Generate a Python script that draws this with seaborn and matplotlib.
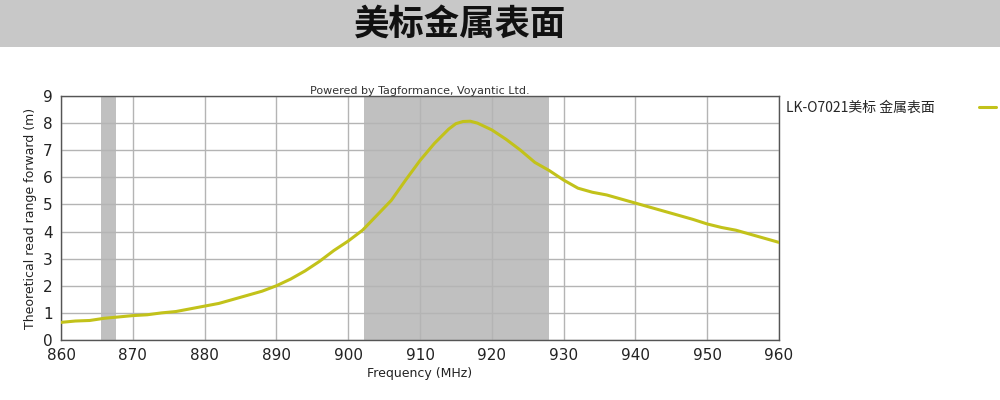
import matplotlib
matplotlib.use("Agg")
import matplotlib.pyplot as plt
import seaborn as sns
import pandas as pd
from matplotlib.patches import Rectangle

title = "美标金属表面"
series_name = "LK-O7021美标 金属表面"
x_label = "Frequency (MHz)"
y_label = "Theoretical read range forward (m)"
credit = "Powered by Tagformance, Voyantic Ltd."

freq = [860, 862, 864, 866, 868, 870, 872, 874, 876, 878, 880, 882, 884, 886, 888,
        890, 892, 894, 896, 898, 900, 902, 904, 906, 908, 910, 912, 914, 915, 916, 917,
        918, 920, 922, 924, 926, 928, 930, 932, 934, 936, 938, 940, 942, 944, 946,
        948, 950, 952, 954, 956, 958, 960]
read_range = [0.65, 0.70, 0.72, 0.80, 0.85, 0.90, 0.93, 1.00, 1.05, 1.15, 1.25, 1.35, 1.50, 1.65, 1.80,
              2.00, 2.25, 2.55, 2.90, 3.30, 3.65, 4.05, 4.60, 5.15, 5.90, 6.62, 7.25, 7.78, 7.98, 8.06, 8.07,
              8.00, 7.75, 7.40, 7.00, 6.55, 6.25, 5.90, 5.60, 5.45, 5.35, 5.20, 5.05, 4.90, 4.75, 4.60,
              4.45, 4.28, 4.15, 4.05, 3.90, 3.75, 3.60]
bands = [(865.6, 867.6), (902.2, 928.0)]
x_ticks = list(range(860, 961, 10))
y_ticks = list(range(0, 10))

sns.set_style("white")
plt.rcParams['font.family'] = ['DejaVu Sans', 'Noto Sans CJK SC']

df = pd.DataFrame({"freq": freq, "range": read_range, "series": series_name})

fig = plt.figure(figsize=(10, 4), dpi=100)
fig.patches.append(Rectangle((0, 1 - 47 / 400), 1, 47 / 400, transform=fig.transFigure,
                             facecolor="#c8c8c8", edgecolor="none", zorder=0))
fig.text(0.46, 0.94, title, ha="center", va="center", fontsize=25.5, fontweight="bold",
         family=["Noto Sans CJK SC"], color="#111111")

ax = fig.add_axes([0.061, 0.15, 0.718, 0.61])
for a, b in bands:
    ax.axvspan(a, b, color="#c0c0c0", zorder=0, lw=0)

sns.lineplot(data=df, x="freq", y="range", hue="series", palette=["#c2c21a"],
             linewidth=2.2, ax=ax, zorder=3)

ax.set_xlim(860, 960)
ax.set_ylim(0, 9)
ax.set_xticks(x_ticks)
ax.set_yticks(y_ticks)
ax.grid(True, color="#b4b4b4", linewidth=1.0, zorder=1)
ax.set_axisbelow(True)
for s in ax.spines.values():
    s.set_color("#555555")
    s.set_linewidth(1.0)
ax.tick_params(axis="both", direction="out", length=4, width=1, color="#333333",
               labelsize=11, labelcolor="#222222", pad=2)
ax.set_xlabel(x_label, fontsize=9, color="#222222", labelpad=3)
ax.set_ylabel(y_label, fontsize=9, color="#222222", labelpad=4)

ax.text(0.5, 1.0, credit, transform=ax.transAxes, ha="center", va="bottom",
        fontsize=8, color="#333333")

ax.legend(loc="upper left", bbox_to_anchor=(1.0, 1.01), frameon=False, markerfirst=False,
          handlelength=1.2, handletextpad=3.2, borderaxespad=0.1,
          prop={"family": ["Noto Sans CJK SC"], "size": 10})

fig.savefig("out.png", dpi=100)
